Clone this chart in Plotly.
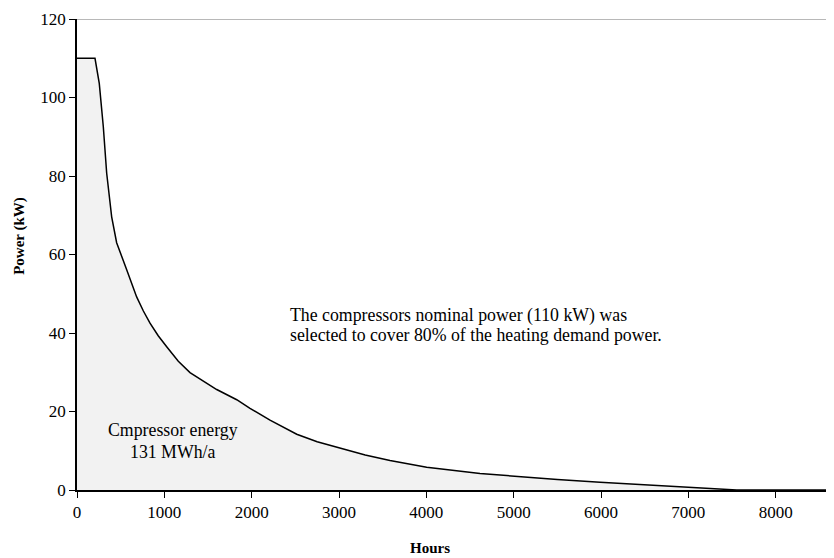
import plotly.graph_objects as go

hours = [0, 206, 255, 301, 340, 397, 454, 510, 569, 683, 760, 836, 930, 1027, 1160, 1294, 1450, 1600, 1829,
         1981, 2210, 2516, 2750, 3012, 3300, 3584, 4004, 4615, 4996, 5500, 5989, 6500, 6981, 7554, 8760]
power = [110, 110, 103.6, 92.6, 80.7, 69.6, 63.0, 59.4, 56.1, 49.2, 45.6, 42.5, 39.3, 36.5, 32.8, 29.9, 27.6, 25.6, 23.0,
         20.8, 17.8, 14.2, 12.3, 10.6, 8.9, 7.5, 5.8, 4.2, 3.5, 2.7, 2.0, 1.4, 0.7, 0, 0]

x_ticks = [0, 1000, 2000, 3000, 4000, 5000, 6000, 7000, 8000]
y_ticks = [0, 20, 40, 60, 80, 100, 120]

FONT = "Times New Roman, Liberation Serif, Tinos, DejaVu Serif, serif"

fig = go.Figure()
fig.add_trace(go.Scatter(
    x=hours, y=power, mode="lines", fill="tozeroy",
    fillcolor="#f2f2f2", line=dict(color="black", width=1.5),
    hoverinfo="skip", showlegend=False,
))

# page body has an 8px margin; figure is sized/offset to compensate
fig.update_layout(
    width=826, height=550,
    margin=dict(l=69, r=0, t=11, b=68, autoexpand=False),
    paper_bgcolor="white", plot_bgcolor="white",
    font=dict(family=FONT, size=17, color="black"),
    xaxis=dict(range=[0, 8668], tickvals=x_ticks, ticks="outside", ticklen=6,
               tickcolor="black", showline=True, linecolor="black", linewidth=1.5,
               showgrid=False, zeroline=False, tickfont=dict(family=FONT, size=17)),
    yaxis=dict(range=[0, 120], tickvals=y_ticks, ticks="outside", ticklen=6,
               tickcolor="black", showline=True, linecolor="black", linewidth=1.5,
               showgrid=False, zeroline=False, tickfont=dict(family=FONT, size=17)),
    shapes=[dict(type="line", xref="paper", yref="y", x0=0, x1=1, y0=120, y1=120,
                 line=dict(color="#a0a0a0", width=1.5))],
)

ann = [
    dict(x=2416, y=44.5, text="The compressors nominal power (110 kW) was", xanchor="left"),
    dict(x=2416, y=39.5, text="selected to cover 80% of the heating demand power.", xanchor="left"),
    dict(x=1100, y=15.2, text="Cmpressor energy", xanchor="center"),
    dict(x=1100, y=9.8, text="131 MWh/a", xanchor="center"),
]
for a in ann:
    fig.add_annotation(xref="x", yref="y", showarrow=False, yanchor="middle",
                       font=dict(family=FONT, size=17.8, color="black"), **a)

fig.add_annotation(xref="paper", yref="paper", x=0.466, y=-0.123, yanchor="middle",
                   text="<b>Hours</b>", showarrow=False,
                   font=dict(family=FONT, size=15, color="black"))
fig.add_annotation(xref="paper", yref="paper", x=-0.077, y=0.539, xanchor="center",
                   yanchor="middle", textangle=-90, text="<b>Power (kW)</b>",
                   showarrow=False, font=dict(family=FONT, size=15, color="black"))

fig.write_html("out.html")
